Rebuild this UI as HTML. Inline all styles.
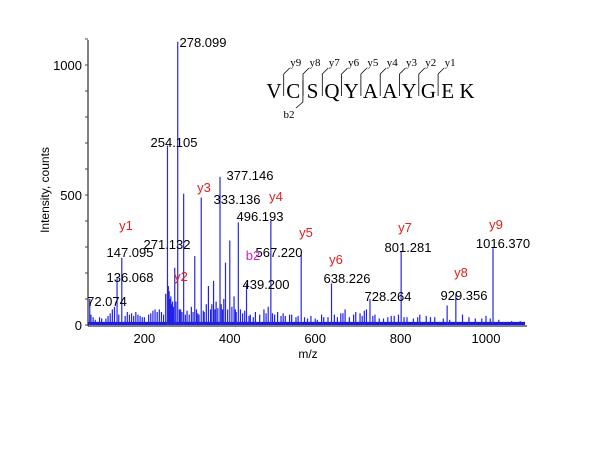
<!DOCTYPE html>
<html><head><meta charset="utf-8"><style>
body{margin:0;background:#fff;}
svg{display:block;font-family:"Liberation Sans",Arial,sans-serif;}
.seq{font-family:"Liberation Serif",serif;}
</style></head><body>
<svg id="chart" width="600" height="450" viewBox="0 0 600 450"></svg>
<script>
const peakMz = [72.074,136.068,147.095,254.105,271.132,278.099,292,318,333.136,377.146,390,400,420,439.2,496.193,567.22,638.226,728.264,801.281,909,929.356,1016.37];
const peakInt = [100,180,258,690,220,1090,505,265,490,570,240,325,395,160,400,270,160,100,285,75,120,295];
const noiseMz = [75,80,85,95,100,110,115,120,125,130,140,155,160,165,170,175,180,185,190,195,200,210,215,220,225,230,235,240,245,250,256,258,260,262,264,266,268,274,282,285,288,296,300,305,310,314,322,325,328,338,340,345,350,355,358,362,365,368,372,380,383,386,395,405,410,413,415,425,430,435,445,448,455,460,470,480,485,490,500,505,512,520,525,530,540,545,555,560,575,582,590,600,605,615,620,630,645,652,660,665,670,680,690,695,705,710,715,720,735,740,750,760,770,778,785,795,808,815,830,840,845,860,870,880,900,915,945,960,975,990,1000,1010,1030,1060,1080];
const noiseInt = [40,30,20,30,25,25,35,45,60,70,40,35,50,40,45,35,50,40,35,30,30,40,45,55,60,50,60,50,40,120,150,130,100,110,80,90,70,90,60,60,50,40,55,40,70,50,60,45,40,55,50,80,150,60,80,170,60,90,65,80,60,100,60,70,110,60,50,60,45,55,35,40,30,50,40,60,45,70,45,40,50,35,45,35,40,40,30,35,30,25,35,25,20,40,30,30,40,30,45,45,60,30,40,50,45,35,55,60,35,40,25,25,30,35,35,40,30,30,25,30,40,35,30,30,25,20,40,30,25,25,35,25,20,15,15];
const annNum = [["278.099",203,47],["254.105",174,147],["377.146",250,180],["333.136",237,204],["496.193",260,221],["271.132",167,249],["147.095",130,257],["567.220",279,257],["136.068",130,282],["439.200",266,289],["72.074",107,306],["638.226",347,283],["801.281",408,252],["1016.370",503,248],["728.264",388,301],["929.356",464,300]];
const ionLbl = [["y1",126,230],["y2",181,281],["y3",204,192],["y4",276,201],["y5",306,237],["y6",336,264],["y7",405,232],["y8",461,277],["y9",496,229]];
const xTicks = [200,400,600,800,1000];
const yTicks = [0,500,1000];

const NS="http://www.w3.org/2000/svg";
const svg=document.getElementById('chart');
const xMin=68,xMax=1096,pxL=88,pxR=527;
const X=m=>pxL+(m-xMin)*(pxR-pxL)/(xMax-xMin);
const Y=v=>325-0.26*v;
function el(t,a,p){const e=document.createElementNS(NS,t);for(const k in a)e.setAttribute(k,a[k]);(p||svg).appendChild(e);return e;}

const axes=el('g',{});


const ya=el('line',{x1:pxL,y1:40,x2:pxL,y2:326,stroke:'#000','stroke-width':1},axes);


const xa=el('line',{x1:pxL,y1:326,x2:pxR,y2:326,stroke:'#000','stroke-width':1},axes);


for(let v=0;v<=1100;v+=100){const t=el('line',{x1:pxL-3,x2:pxL,y1:Y(v),y2:Y(v),stroke:'#444'},axes);

}
yTicks.forEach(v=>{const t=el('text',{x:pxL-6,y:Y(v)+5,'text-anchor':'end','font-size':13},axes);t.textContent=v;

});
xTicks.forEach(v=>{const t=el('text',{x:X(v),y:343,'text-anchor':'middle','font-size':13},axes);t.textContent=v;

});
const xt=el('text',{x:308,y:358,'text-anchor':'middle','font-size':12},axes);xt.textContent='m/z';


const yt=el('text',{x:49,y:190,'text-anchor':'middle','font-size':12,transform:'rotate(-90 49 190)'},axes);yt.textContent='Intensity, counts';



const sp=el('g',{stroke:'#0000f0','stroke-width':1.2});


const base=el('rect',{x:pxL,y:Y(12),width:pxR-pxL-2,height:Y(0)-Y(12),fill:'#1818e8',stroke:'none'},sp);


noiseMz.forEach((m,i)=>{const l=el('line',{x1:X(m),x2:X(m),y1:Y(0),y2:Y(noiseInt[i]),stroke:'#2020e8'},sp);

});
peakMz.forEach((m,i)=>{const l=el('line',{x1:X(m),x2:X(m),y1:Y(0),y2:Y(peakInt[i]),stroke:'#2828e0'},sp);

});

annNum.forEach(a=>{const t=el('text',{x:a[1],y:a[2],'text-anchor':'middle','font-size':13});t.textContent=a[0];

});
ionLbl.forEach(a=>{const t=el('text',{x:a[1],y:a[2],'text-anchor':'middle','font-size':13,fill:'#e02020'});t.textContent=a[0];

});
const b2=el('text',{x:253,y:260,'text-anchor':'middle','font-size':13,fill:'#d020d0'});b2.textContent='b2';



const seq='VCSQYAAYGEK'.split('');
const sg=el('g',{});


const sx=274;
seq.forEach((c,i)=>{const t=el('text',{x:sx+i*19.3,y:98,'text-anchor':'middle','font-size':21,class:'seq'},sg);t.textContent=c;

});
for(let i=1;i<10;i++){const bx=sx+i*19.3-9.6;
const p=el('path',{d:`M${bx} 96 L${bx} 74 L${bx+6} 68`,stroke:'#000',fill:'none','stroke-width':0.8},sg);


const t=el('text',{x:bx+12,y:66,'text-anchor':'middle','font-size':11,class:'seq'},sg);t.textContent='y'+(10-i);

}
const bp=el('path',{d:`M${sx+28.9} 80 L${sx+28.9} 102 L${sx+22} 108`,stroke:'#000',fill:'none','stroke-width':0.8},sg);


const bt=el('text',{x:sx+15,y:118,'text-anchor':'middle','font-size':11,class:'seq'},sg);bt.textContent='b2';


</script>
</body></html>
